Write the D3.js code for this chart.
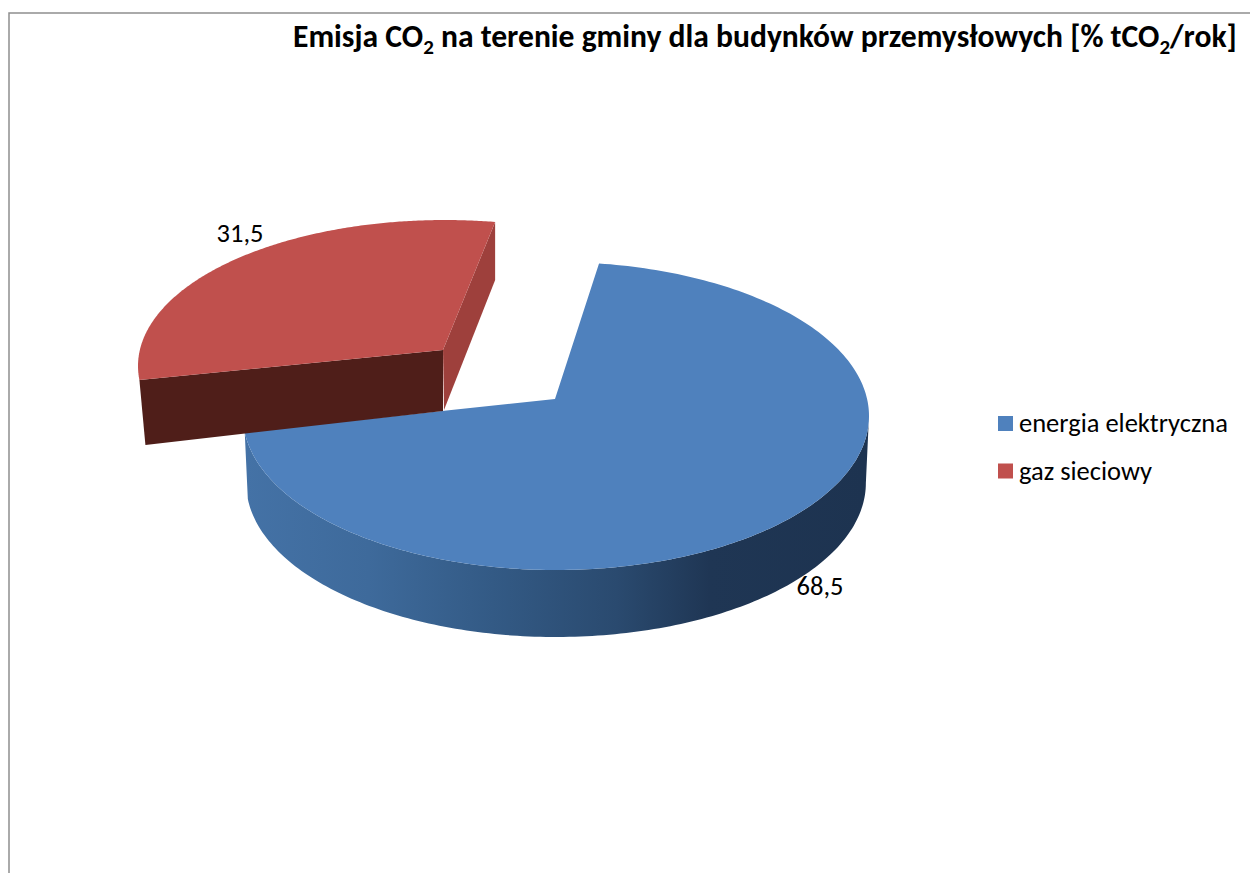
<!DOCTYPE html>
<html><head><meta charset="utf-8">
<script src="https://cdn.jsdelivr.net/npm/d3@7/dist/d3.min.js"></script>
<style>html,body{margin:0;padding:0;background:#fff}svg{display:block}text{font-family:Carlito,Calibri,Lato,sans-serif;fill:#000}</style>
</head><body><svg id="c" width="1250" height="873"></svg>
<script>
const categories = ["energia elektryczna", "gaz sieciowy"];
const values = [68.5, 31.5];
const valueLabels = ["68,5", "31,5"];
const colors = ["#4F81BD", "#C0504D"];
const titleParts = ["Emisja CO", "2", " na terenie gminy dla budynków przemysłowych [% tCO", "2", "/rok]"];

const rad = Math.PI / 180;
const geometry = [
  {cx:556, cy:416, rx:313, ry:154, ax:555, ay:399, t:[7.9,264]},
  {cx:445, cy:366, rx:307, ry:146, ax:443, ay:350, t:[264.5,369.4]}
];
const svg = d3.select("#c");
const defs = svg.append("defs");
const grad = defs.append("linearGradient").attr("id","wall").attr("gradientUnits","userSpaceOnUse")
  .attr("x1",245).attr("x2",865).attr("y1",0).attr("y2",0);
[[0,"#4472A6"],[0.2,"#3E6A9B"],[0.4,"#335A85"],[0.6,"#2A4A6F"],[0.75,"#1F3654"],[1,"#1D3350"]]
  .forEach(s=>grad.append("stop").attr("offset",s[0]).attr("stop-color",s[1]));

// frame
svg.append("path").attr("d","M9,873V13H1250").attr("fill","none").attr("stroke","#8e8e8e").attr("stroke-width",1.5);

const arcs = d3.pie().sort(null)(values);
const line = d3.line();
const pt = (g,t,dx=0,dy=0,k=1)=>[g.cx+dx+g.rx*k*Math.sin(t*rad), g.cy+dy-g.ry*Math.cos(t*rad)];
const toParam = (d,g)=>d3.scaleLinear().domain([d.startAngle,d.endAngle]).range(g.t);
const samples = (d,g,n=240)=>{const s=toParam(d,g);return d3.range(n+1).map(i=>s(d.startAngle+(d.endAngle-d.startAngle)*i/n));};

// blue: outer wall then top
{
  const d=arcs[0], g=geometry[0];
  const ts=[90].concat(samples(d,g).filter(t=>t>90));
  const top=ts.map(t=>pt(g,t));
  const bot=ts.slice().reverse().map(t=>pt(g,t,0,67,0.99));
  svg.append("path").attr("d",line(top.concat(bot))+"Z").attr("fill","url(#wall)");
  const face=[[g.ax,g.ay]].concat(samples(d,g).map(t=>pt(g,t)));
  svg.append("path").attr("d",line(face)+"Z").attr("fill",colors[0]);
}
// red: side faces then top
{
  const d=arcs[1], g=geometry[1];
  const ts=samples(d,g);
  const A=[g.ax,g.ay], L=pt(g,ts[0]), R=pt(g,ts[ts.length-1]);
  svg.append("path").attr("d",line([A,R,[R[0],R[1]+58],[A[0]+1,A[1]+60]])+"Z").attr("fill","#9E403C");
  svg.append("path").attr("d",line([A,L,[L[0]+6,L[1]+65],[A[0],A[1]+61]])+"Z").attr("fill","#4F1E19");
  const face=[A].concat(ts.map(t=>pt(g,t)));
  svg.append("path").attr("d",line(face)+"Z").attr("fill",colors[1]);
}
// data labels
const labelPos=[[820,595],[240,242]];
svg.selectAll("text.v").data(valueLabels).join("text").attr("class","v")
  .attr("x",(d,i)=>labelPos[i][0]).attr("y",(d,i)=>labelPos[i][1])
  .attr("text-anchor","middle").attr("font-size",26.5).text(d=>d);
// legend
const lg=svg.selectAll("g.l").data(categories).join("g").attr("class","l")
  .attr("transform",(d,i)=>`translate(998,${416+i*47.5})`);
lg.append("rect").attr("width",15).attr("height",15).attr("fill",(d,i)=>colors[i]);
lg.append("text").attr("x",21).attr("y",16).attr("font-size",26.5).text(d=>d);
// title
const tt=svg.append("text").attr("x",293).attr("y",47).attr("font-size",31.6).attr("font-weight",700);
titleParts.forEach((p,i)=>{
  const sub=i%2===1;
  tt.append("tspan").attr("font-size",sub?21:null).attr("dy",sub?7:(i>0?-7:0)).text(p);
});
</script></body></html>
